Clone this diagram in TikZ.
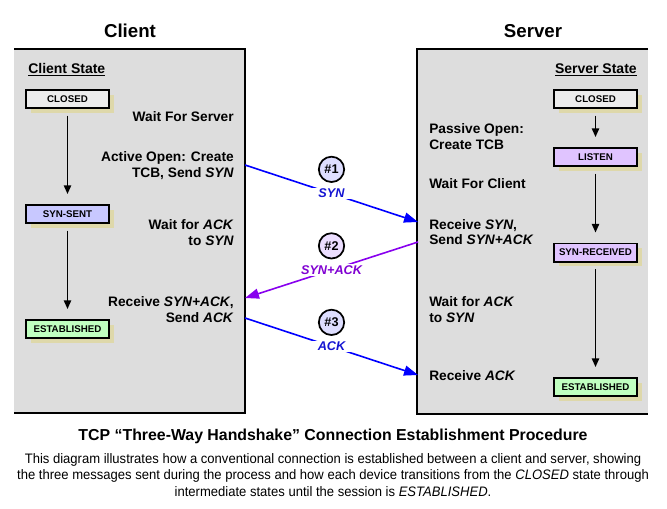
\documentclass[tikz,border=0pt]{standalone}
\usepackage{fontspec}
\setmainfont{Liberation Sans}
\newfontfamily\narrowfont{Liberation Sans}[FakeStretch=0.95]
\usetikzlibrary{arrows.meta,positioning,shadows}
\definecolor{panelgray}{RGB}{221,221,221}
\definecolor{shadowtan}{RGB}{222,216,170}
\definecolor{closedfill}{RGB}{236,236,236}
\definecolor{sentfill}{RGB}{200,200,255}
\definecolor{listenfill}{RGB}{224,196,255}
\definecolor{estfill}{RGB}{192,255,192}
\definecolor{synblue}{RGB}{0,0,255}
\definecolor{synpurple}{RGB}{136,0,238}
\definecolor{lblblue}{RGB}{20,20,210}
\definecolor{lblpurple}{RGB}{128,0,210}
\definecolor{numblue}{RGB}{222,222,255}
\definecolor{numpurple}{RGB}{236,222,255}

\begin{document}
\begin{tikzpicture}[
  x=0.75pt, y=-0.75pt,
  panelborder/.style={draw=black, line width=2.2pt},
  header/.style={font=\fontsize{14}{16}\selectfont\bfseries, inner sep=0pt},
  subhead/.style={font=\fontsize{10.5}{12}\selectfont\bfseries, inner sep=0pt},
  statebox/.style={draw=black, line width=1.4pt, minimum width=62.3pt,
  minimum height=13.6pt, inner sep=0pt, font=\fontsize{7.3}{8}\selectfont\bfseries,
  general shadow={fill=shadowtan, shadow xshift=3.5pt, shadow yshift=-3.5pt}},
  stateflow/.style={-{Triangle[length=6.5pt,width=5.5pt]}, line width=1.1pt,
  shorten <=5pt, shorten >=7.5pt},
  note/.style={font=\fontsize{10.3}{11.6}\selectfont\bfseries, inner sep=0pt},
  clientnote/.style={note, anchor=east, align=right},
  servernote/.style={note, anchor=west, align=left},
  msgarrow/.style={line width=1.2pt, -{Triangle[length=10.5pt,width=7.5pt]}},
  msglabel/.style={fill=white, inner xsep=5pt, inner ysep=1pt,
  font=\fontsize{9.5}{11}\selectfont\bfseries\itshape},
  numcircle/.style={circle, draw=black, line width=1.3pt, minimum size=19pt,
  inner sep=0pt, font=\fontsize{9.5}{11}\selectfont\bfseries},
  titletext/.style={font=\fontsize{11.9}{14}\selectfont\bfseries, inner sep=0pt},
  desctext/.style={font=\narrowfont\fontsize{10.3}{12.4}\selectfont, align=center, inner sep=0pt}
]
\useasboundingbox (0,0) rectangle (667,508);

% the two panels
\fill[panelgray] (14,49) rectangle (245,413);
\draw[panelborder] (14,49) -- (245,49) -- (245,413) -- (14,413);
\fill[panelgray] (417,49) rectangle (648,414);
\draw[panelborder] (648,49) -- (417,49) -- (417,414) -- (648,414);

\node[header] (clienthead) at (130,31) {Client};
\node[header] (serverhead) at (533,31) {Server};
\node[subhead, anchor=west] (clientstate) at (28,70) {\underline{Client State}};
\node[subhead, anchor=east] (serverstate) at (637,70) {\underline{Server State}};

% client states
\node[statebox, fill=closedfill] (cclosed) at (67.5,99) {CLOSED};
\node[statebox, fill=sentfill] (csent) at (67.5,214) {SYN-SENT};
\node[statebox, fill=estfill] (cest) at (67.5,329) {ESTABLISHED};
\draw[stateflow] (cclosed) -- (csent);
\draw[stateflow] (csent) -- (cest);

% server states
\node[statebox, fill=closedfill] (sclosed) at (595.5,99) {CLOSED};
\node[statebox, fill=listenfill] (slisten) at (595.5,157) {LISTEN};
\node[statebox, fill=listenfill] (srcvd) at (595.5,252.5) {SYN-RECEIVED};
\node[statebox, fill=estfill] (sest) at (595.5,387) {ESTABLISHED};
\draw[stateflow] (sclosed) -- (slisten);
\draw[stateflow] (slisten) -- (srcvd);
\draw[stateflow] (srcvd) -- (sest);

% what each side does
\node[clientnote] (cwait) at (234,117) {Wait For Server};
\node[clientnote] (cactive) at (234,165.5) {Active Open: Create\\TCB, Send \textit{SYN}};
\node[clientnote] (cwaitack) at (234,232.5) {Wait for \textit{ACK}\\to \textit{SYN}};
\node[clientnote] (crecv) at (234,309.5) {Receive \textit{SYN+ACK},\\Send \textit{ACK}};
\node[servernote] (spassive) at (429,136.5) {Passive Open:\\Create TCB};
\node[servernote] (swait) at (429,184) {Wait For Client};
\node[servernote] (srecv) at (429,232) {Receive \textit{SYN},\\Send \textit{SYN+ACK}};
\node[servernote] (swaitack) at (429,309.5) {Wait for \textit{ACK}\\to \textit{SYN}};
\node[servernote] (srecvack) at (429,376) {Receive \textit{ACK}};

% messages
\coordinate (c1) at (245,165);
\coordinate (s1) at (418,222);
\coordinate (s2) at (418,242);
\coordinate (c2) at (245,298);
\coordinate (c3) at (245,318);
\coordinate (s3) at (418,375);
\draw[msgarrow, synblue] (c1) -- node[msglabel, text=lblblue] (lbl1) {SYN} (s1);
\draw[msgarrow, synpurple] (s2) -- node[msglabel, text=lblpurple] (lbl2) {SYN+ACK} (c2);
\draw[msgarrow, synblue] (c3) -- node[msglabel, text=lblblue] (lbl3) {ACK} (s3);
\node[numcircle, fill=numblue, above=3pt of lbl1] (num1) {\#1};
\node[numcircle, fill=numpurple, above=3pt of lbl2] (num2) {\#2};
\node[numcircle, fill=numblue, above=3pt of lbl3] (num3) {\#3};

% caption
\node[titletext] (title) at (333,436) {TCP “Three-Way Handshake” Connection Establishment Procedure};
\node[desctext] (desc) at (333,475) {This diagram illustrates how a conventional connection is established between a client and server, showing\\
the three messages sent during the process and how each device transitions from the \textit{CLOSED} state through\\
intermediate states until the session is \textit{ESTABLISHED}.};
\end{tikzpicture}
\end{document}
